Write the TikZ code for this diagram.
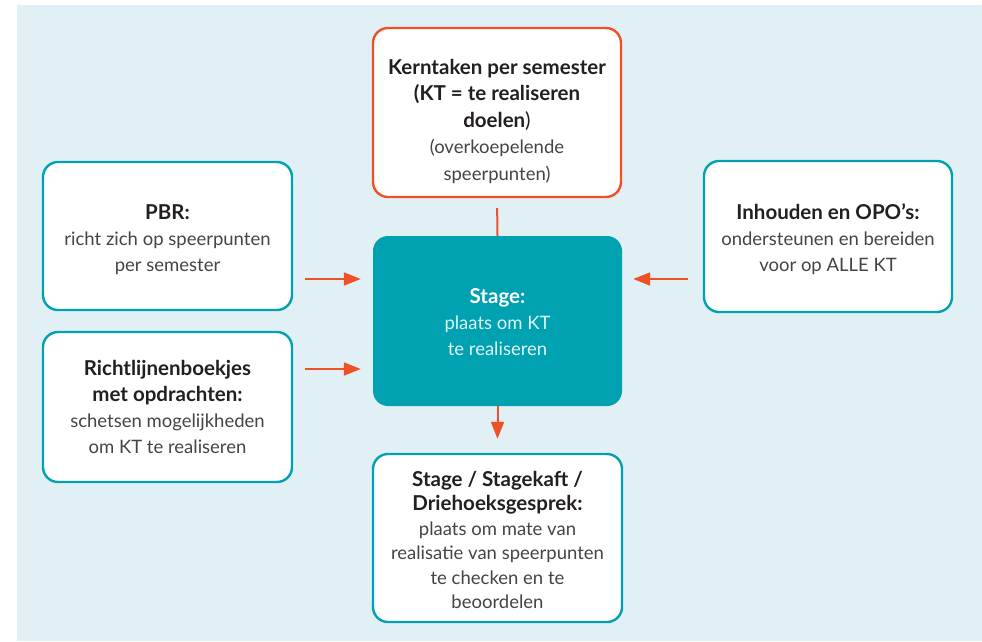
\documentclass[tikz,border=0pt]{standalone}
\usepackage{fontspec}
\setmainfont{Lato}
\usetikzlibrary{arrows.meta,calc}
\definecolor{bgblue}{RGB}{225,240,245}
\definecolor{teal1}{RGB}{0,161,176}
\definecolor{orange1}{RGB}{240,80,38}
\definecolor{txtgray}{RGB}{68,68,68}
\definecolor{txtdark}{RGB}{35,31,32}
\newcommand{\hdtxt}[1]{{\fontsize{20.5}{26}\selectfont\bfseries\color{txtdark}#1}}
\begin{document}
\begin{tikzpicture}[x=1pt,y=-1pt,
  box/.style={draw=teal1, line width=2.4pt, fill=white, rounded corners=15pt,
    align=center, text=txtgray, inner sep=0pt,
    font=\fontsize{18.5}{26}\selectfont},
  obox/.style={box, draw=orange1},
  sbox/.style={draw=none, fill=teal1, rounded corners=15pt, align=center,
    text=white!88!teal1, inner sep=0pt, font=\fontsize{18.5}{26}\selectfont},
  conn/.style={draw=orange1, line width=2pt},
  arr/.style={conn, -{Triangle[length=17pt,width=13pt]}}]
\useasboundingbox (0,0) rectangle (982,641);
\fill[bgblue] (17,5) rectangle (982,641);

\node[obox, minimum width=248pt, minimum height=169pt,
  font=\fontsize{18.5}{26.5}\selectfont] (kt) at (497,112.5)
  {\rule{0pt}{33pt}\hdtxt{Kerntaken per semester}\\
   \hdtxt{(KT = te realiseren}\\
   \hdtxt{doelen}{\color{txtdark}\fontsize{20.5}{26}\selectfont)}\\
   (overkoepelende\\speerpunten)};

\node[sbox, minimum width=249pt, minimum height=170pt] (stage) at (497.5,321)
  {\rule{0pt}{18pt}{\fontsize{20.5}{26}\selectfont\bfseries\color{white}Stage:}\\plaats om KT\\te realiseren};

\node[box, minimum width=249pt, minimum height=148pt] (pbr) at (167.5,236)
  {\rule{0pt}{23pt}\hdtxt{PBR:}\\richt zich op speerpunten\\per semester};

\node[box, minimum width=249pt, minimum height=150pt] (rl) at (167.5,407)
  {\hdtxt{Richtlijnenboekjes}\\
   \hdtxt{met opdrachten:}\\
   schetsen mogelijkheden\\om KT te realiseren};

\node[box, minimum width=248pt, minimum height=151pt] (opo) at (828,236.5)
  {\rule{0pt}{21pt}\hdtxt{Inhouden en OPO’s:}\\
   ondersteunen en bereiden\\voor op ALLE KT};

\node[box, minimum width=249pt, minimum height=168pt,
  font=\fontsize{18.5}{24.5}\selectfont] (eval) at (497.5,538)
  {\rule{0pt}{19pt}\hdtxt{Stage / Stagekaft /}\\
   \hdtxt{Driehoeksgesprek:}\\
   plaats om mate van\\realisatie van speerpunten\\te checken en te\\beoordelen};

\coordinate (ya) at (0,279);
\coordinate (yb) at (0,369);

\draw[conn, shorten <=10pt] (kt.south) -- (stage.north);
\draw[arr, shorten <=12pt, shorten >=12pt] (pbr.east |- ya) -- (stage.west |- ya);
\draw[arr, shorten <=12pt, shorten >=12pt] (rl.east |- yb) -- (stage.west |- yb);
\draw[arr, shorten <=15pt, shorten >=11pt] (opo.west |- ya) -- (stage.east |- ya);
\draw[arr, shorten >=14pt] (stage.south) -- (eval.north);
\end{tikzpicture}
\end{document}
